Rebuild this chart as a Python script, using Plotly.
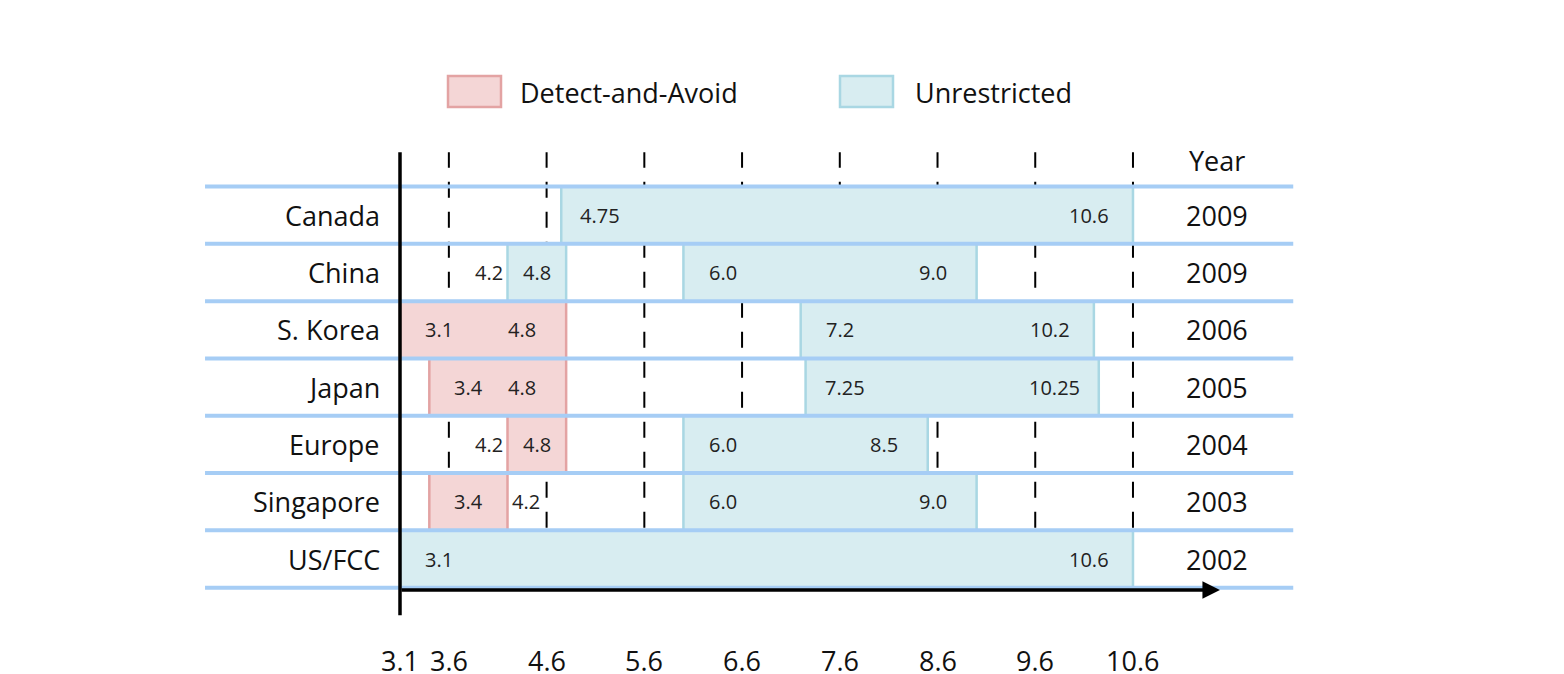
import plotly.graph_objects as go

countries = ["US/FCC", "Singapore", "Europe", "Japan", "S. Korea", "China", "Canada"]
years = ["2002", "2003", "2004", "2005", "2006", "2009", "2009"]
# (row index, start, end, label mode)
daa = [(1, 3.4, 4.2, "outR"), (2, 4.2, 4.8, "outL"), (3, 3.4, 4.8, "in"), (4, 3.1, 4.8, "in")]
unr = [(0, 3.1, 10.6, "in"), (1, 6.0, 9.0, "in"), (2, 6.0, 8.5, "in"), (3, 7.25, 10.25, "in"),
       (4, 7.2, 10.2, "in"), (5, 4.2, 4.8, "outL"), (5, 6.0, 9.0, "in"), (6, 4.75, 10.6, "in")]
ticks = [3.1, 3.6, 4.6, 5.6, 6.6, 7.6, 8.6, 9.6, 10.6]

FONT = "Open Sans"
PXU, PYU = 97.73, 57.3
X0 = 3.1 - 392 / PXU          # data x at figure px 0
Y0 = 551 / PYU                # data y at figure px 0
def dx(px): return X0 + px / PXU
def dy(py): return Y0 - py / PYU

fill_d, line_d = "#f4d6d6", "#e3a3a3"
fill_u, line_u = "#d8edf1", "#a9d7e3"

fig = go.Figure()
for name, segs, fill, line in [("Detect-and-Avoid", daa, fill_d, line_d),
                               ("Unrestricted", unr, fill_u, line_u)]:
    fig.add_trace(go.Bar(orientation="h", name=name,
                         y=[s[0] for s in segs], x=[s[2] - s[1] for s in segs],
                         base=[s[1] for s in segs], width=1.0,
                         marker=dict(color=fill, line=dict(color=line, width=2.5)),
                         hoverinfo="skip", showlegend=False))

ann = []
def fmt(v): return f"{v:.1f}" if v == int(v) and v < 10 else f"{v:g}"
def lab(x, y, t, anchor="center"):
    ann.append(dict(x=x, y=y, text=t, showarrow=False, xanchor=anchor,
                    font=dict(family=FONT, size=20, color="#222")))
for segs in (daa, unr):
    for r, a, b, mode in segs:
        sa, sb = fmt(a), fmt(b)
        if mode == "in":
            lab(a + 0.4, r, sa); lab(b - 0.45, r, sb)
        elif mode == "outL":
            lab(a - 0.03, r, sa, "right"); lab((a + b) / 2, r, sb)
        else:
            lab((a + b) / 2, r, sa); lab(b + 0.03, r, sb, "left")

for i, (c, yr) in enumerate(zip(countries, years)):
    ann.append(dict(x=2.92, y=i, text=c, showarrow=False, xanchor="right",
                    font=dict(family=FONT, size=27, color="#111")))
    ann.append(dict(x=11.46, y=i, text=yr, showarrow=False,
                    font=dict(family=FONT, size=27, color="#111")))
ann.append(dict(x=11.46, y=6.96, text="Year", showarrow=False, font=dict(family=FONT, size=27, color="#111")))
for t in ticks:
    ann.append(dict(x=t, y=-1.78, text=f"{t:g}", showarrow=False,
                    font=dict(family=FONT, size=27, color="#111")))
ann.append(dict(x=11.49, y=-0.54, ax=3.1, ay=-0.54, xref="x", yref="y", axref="x", ayref="y",
                showarrow=True, arrowhead=2, arrowsize=1, arrowwidth=3.5, arrowcolor="black", text=""))

shapes = []
# legend boxes
for (x0, x1, fill, line, text, tx) in [(440, 493, fill_d, line_d, "Detect-and-Avoid", 510),
                                       (832, 885, fill_u, line_u, "Unrestricted", 905)]:
    shapes.append(dict(type="rect", x0=dx(x0), x1=dx(x1), y0=dy(68), y1=dy(99),
                       fillcolor=fill, line=dict(color=line, width=2.5)))
    ann.append(dict(x=dx(tx), y=dy(84), text=text, showarrow=False, xanchor="left",
                    font=dict(family=FONT, size=27, color="#111")))
for t in ticks[1:]:
    shapes.append(dict(type="line", x0=t, x1=t, y0=-0.5, y1=7.1, layer="below",
                       line=dict(color="black", width=2, dash="16px,14px")))
for k in range(8):
    yy = k - 0.5
    shapes.append(dict(type="line", x0=1.105, x1=12.24, y0=yy, y1=yy, layer="above",
                       line=dict(color="#a6cdf5", width=4)))
shapes.append(dict(type="line", x0=3.1, x1=3.1, y0=-0.98, y1=7.1, line=dict(color="black", width=3.5)))

fig.update_layout(
    width=1564, height=674, margin=dict(l=0, r=0, t=0, b=0),
    plot_bgcolor="white", paper_bgcolor="white", barmode="overlay",
    xaxis=dict(range=[dx(0), dx(1564)], visible=False, fixedrange=True),
    yaxis=dict(range=[dy(674), dy(0)], visible=False, fixedrange=True),
    showlegend=False,
    annotations=ann, shapes=shapes,
)
fig.write_html("out.html")
